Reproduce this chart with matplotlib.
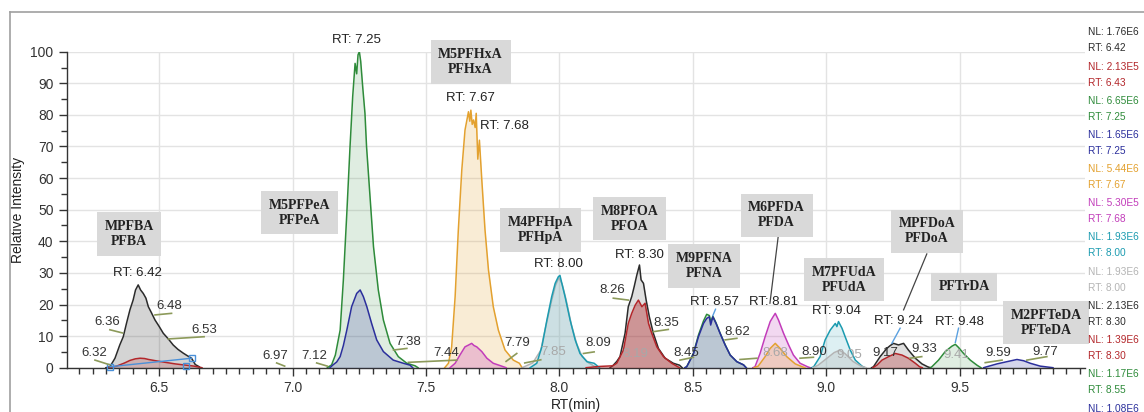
import matplotlib
matplotlib.use("Agg")
import matplotlib.pyplot as plt
from matplotlib.lines import Line2D
from matplotlib.ticker import MultipleLocator

plt.rcParams['font.family'] = ['Liberation Sans', 'DejaVu Sans']

# ---------------- data ----------------
# PFBA group
pfba_blk_rt = [6.30, 6.315, 6.334, 6.352, 6.365, 6.377, 6.39, 6.402, 6.411, 6.421, 6.43, 6.44, 6.45,
               6.459, 6.47, 6.484, 6.50, 6.515, 6.535, 6.552, 6.57, 6.59, 6.605, 6.621, 6.635, 6.65]
pfba_blk_y = [0, 0.3, 3.0, 7.2, 9.8, 14.0, 18.3, 21.4, 24.6, 26.2, 24.6, 23.5, 22.0,
              19.3, 17.5, 15.1, 13.0, 10.9, 9.0, 7.2, 5.8, 4.6, 3.8, 3.0, 1.0, 0.3]
pfba_red_rt = [6.31, 6.34, 6.37, 6.39, 6.41, 6.428, 6.445, 6.46, 6.48, 6.50, 6.53, 6.56, 6.60, 6.63, 6.66]
pfba_red_y = [0, 0.5, 1.5, 2.3, 2.8, 3.0, 2.9, 2.6, 2.3, 2.0, 1.6, 1.2, 0.8, 0.5, 0]

# PFPeA group
pfpea_grn_rt = [7.13, 7.146, 7.16, 7.178, 7.19, 7.203, 7.215, 7.225, 7.234, 7.24, 7.245, 7.25, 7.255,
                7.263, 7.271, 7.277, 7.29, 7.303, 7.321, 7.34, 7.365, 7.396, 7.428, 7.459, 7.47]
pfpea_grn_y = [0, 0.9, 4.0, 11.9, 27.7, 48.9, 69.9, 85.8, 96.3, 93.0, 99.0, 100, 97.0,
               88.4, 80.5, 69.9, 54.1, 38.3, 24.6, 15.1, 7.7, 3.5, 1.4, 0.6, 0]
pfpea_blu_rt = [7.14, 7.15, 7.165, 7.178, 7.19, 7.203, 7.221, 7.24, 7.253, 7.265, 7.278, 7.296,
                7.315, 7.34, 7.377, 7.415, 7.44, 7.45]
pfpea_blu_y = [0, 0.8, 1.8, 3.5, 7.0, 11.9, 19.3, 23.5, 24.6, 22.5, 19.3, 14.0, 8.8, 5.1, 2.4, 1.4, 0.8, 0]

# PFHxA group
pfhxa_org_rt = [7.57, 7.584, 7.596, 7.609, 7.621, 7.634, 7.646, 7.659, 7.664, 7.668, 7.673, 7.678, 7.684,
                7.688, 7.694, 7.70, 7.709, 7.721, 7.734, 7.752, 7.771, 7.796, 7.827, 7.85, 7.86]
pfhxa_org_y = [0, 1.4, 6.6, 22.5, 43.6, 62.6, 75.2, 81.0, 78.0, 81.5, 77.0, 78.4, 76.0,
               80.5, 66.0, 72.0, 59.4, 43.6, 30.9, 19.3, 11.9, 5.6, 2.4, 1.4, 0]
pfhxa_mag_rt = [7.59, 7.609, 7.627, 7.646, 7.66, 7.671, 7.68, 7.69, 7.709, 7.728, 7.752, 7.78, 7.80]
pfhxa_mag_y = [0, 1.4, 4.0, 6.6, 7.2, 7.7, 7.0, 6.6, 5.1, 3.0, 1.4, 0.6, 0]

# PFHpA group
pfhpa_tea_rt = [7.89, 7.915, 7.934, 7.953, 7.971, 7.984, 7.996, 8.002, 8.009, 8.021, 8.04, 8.059,
                8.077, 8.103, 8.13, 8.15]
pfhpa_tea_y = [0, 1.4, 6.6, 15.1, 22.5, 26.7, 28.8, 29.2, 26.7, 22.5, 15.1, 8.8, 4.5, 1.9, 1.4, 0]
pfhpa_gry_rt = [7.86, 7.90, 7.93, 7.95, 7.97, 7.985, 7.998, 8.01, 8.025, 8.045, 8.065, 8.085, 8.11, 8.14]
pfhpa_gry_y = [0, 1.5, 5.5, 13.5, 21.0, 26.0, 28.5, 26.5, 21.5, 13.5, 7.5, 3.5, 1.5, 0]

# PFOA group
pfoa_blk_rt = [8.19, 8.202, 8.215, 8.227, 8.246, 8.258, 8.271, 8.28, 8.29, 8.30, 8.306, 8.315, 8.325,
               8.337, 8.352, 8.371, 8.396, 8.427, 8.45, 8.46]
pfoa_blk_y = [0, 0.8, 2.0, 3.5, 10.9, 19.3, 22.5, 25.6, 29.3, 32.5, 27.8, 26.7, 21.4,
              16.1, 10.9, 6.1, 3.0, 1.4, 0.8, 0]
pfoa_red_rt = [8.10, 8.15, 8.20, 8.215, 8.24, 8.258, 8.271, 8.284, 8.296, 8.309, 8.321, 8.334,
               8.346, 8.365, 8.39, 8.421, 8.45]
pfoa_red_y = [0, 0.4, 0.6, 1.4, 5.6, 14.0, 17.2, 19.8, 21.4, 19.3, 20.4, 14.0, 10.9, 6.6, 3.5, 1.4, 0]

# PFNA group
pfna_rt = [8.47, 8.477, 8.502, 8.521, 8.54, 8.552, 8.562, 8.567, 8.575, 8.587, 8.602, 8.621,
           8.64, 8.665, 8.69, 8.70]
pfna_grn_y = [0, 0.3, 4.5, 10.3, 14.8, 16.9, 16.5, 14.5, 16.3, 14.2, 11.0, 7.3, 4.0, 1.9, 0.9, 0]
pfna_blu_y = [0, 0.3, 4.3, 9.8, 14.0, 15.6, 16.1, 13.5, 16.1, 14.0, 10.9, 7.2, 4.0, 1.9, 0.9, 0]

# PFDA group
pfda_mag_rt = [8.725, 8.733, 8.752, 8.771, 8.79, 8.80, 8.809, 8.821, 8.84, 8.859, 8.877, 8.902, 8.93, 8.94]
pfda_mag_y = [0, 0.3, 4.5, 9.8, 14.6, 16.0, 17.2, 15.1, 10.9, 7.2, 4.0, 1.4, 0.3, 0]
pfda_org_rt = [8.73, 8.745, 8.771, 8.79, 8.809, 8.827, 8.852, 8.884, 8.91, 8.92]
pfda_org_y = [0, 0.5, 3.5, 6.1, 7.7, 6.1, 3.5, 1.2, 0.3, 0]

# PFUdA group
pfuda_tea_rt = [8.945, 8.953, 8.977, 8.996, 9.015, 9.034, 9.040, 9.046, 9.059, 9.071, 9.09, 9.109, 9.134, 9.145]
pfuda_tea_y = [0, 0.3, 3.5, 8.8, 11.9, 14.0, 13.0, 14.6, 12.5, 9.8, 5.6, 2.4, 0.5, 0]
pfuda_gry_rt = [8.95, 8.97, 9.00, 9.03, 9.05, 9.07, 9.10, 9.13, 9.15]
pfuda_gry_y = [0, 0.8, 2.8, 4.8, 5.5, 4.5, 2.0, 0.5, 0]

# PFDoA group
pfdoa_blk_rt = [9.17, 9.177, 9.202, 9.227, 9.24, 9.252, 9.271, 9.29, 9.308, 9.334, 9.359, 9.38, 9.39]
pfdoa_blk_y = [0, 0.3, 3.5, 6.1, 7.0, 7.7, 7.2, 7.7, 5.6, 3.0, 1.2, 0.3, 0]
pfdoa_red_rt = [9.175, 9.19, 9.209, 9.234, 9.259, 9.284, 9.308, 9.334, 9.35, 9.36]
pfdoa_red_y = [0, 0.8, 2.4, 3.5, 4.5, 4.0, 3.0, 1.4, 0.3, 0]

# PFTrDA
pftrda_rt = [9.39, 9.396, 9.421, 9.446, 9.471, 9.484, 9.496, 9.515, 9.54, 9.565, 9.58]
pftrda_y = [0, 0.3, 2.4, 5.1, 6.8, 7.4, 6.4, 4.5, 2.4, 0.8, 0]

# PFTeDA
pfteda_rt = [9.59, 9.602, 9.64, 9.677, 9.715, 9.74, 9.765, 9.802, 9.84, 9.85]
pfteda_y = [0, 0.3, 1.2, 1.9, 2.6, 2.2, 1.4, 0.5, 0.1, 0]

# compound label boxes
box_texts = ["MPFBA\nPFBA", "M5PFPeA\nPFPeA", "M5PFHxA\nPFHxA", "M4PFHpA\nPFHpA", "M8PFOA\nPFOA",
             "M9PFNA\nPFNA", "M6PFDA\nPFDA", "M7PFUdA\nPFUdA", "MPFDoA\nPFDoA", "PFTrDA",
             "M2PFTeDA\nPFTeDA"]
box_x = [6.387, 7.026, 7.667, 7.928, 8.264, 8.543, 8.814, 9.066, 9.377, 9.517, 9.824]
box_y = [42.3, 49.0, 96.7, 43.6, 47.2, 32.2, 48.2, 27.8, 43.2, 25.6, 14.3]

# apex RT labels
rt_texts = ["RT: 6.42", "RT: 7.25", "RT: 7.67", "RT: 7.68", "RT: 8.00", "RT: 8.30", "RT: 8.57",
            "RT: 8.81", "RT: 9.04", "RT: 9.24", "RT: 9.48"]
rt_x = [6.419, 7.240, 7.665, 7.792, 7.996, 8.299, 8.580, 8.802, 9.037, 9.271, 9.499]
rt_y = [30.1, 103.7, 85.4, 76.5, 32.7, 35.7, 20.9, 20.7, 17.9, 14.8, 14.6]

# peak boundary labels
bd_texts = ["6.32", "6.36", "6.48", "6.53", "6.97", "7.12", "7.38", "7.44", "7.79", "7.85", "8.09",
            "8.19", "8.26", "8.35", "8.45", "8.62", "8.68", "8.90", "9.05", "9.17", "9.33", "9.41",
            "9.59", "9.77"]
bd_x = [6.257, 6.305, 6.536, 6.668, 6.934, 7.080, 7.434, 7.575, 7.842, 7.977, 8.146,
        8.284, 8.199, 8.402, 8.475, 8.665, 8.809, 8.955, 9.087, 9.221, 9.368, 9.486,
        9.646, 9.821]
bd_y = [4.5, 14.5, 19.5, 11.9, 3.7, 3.7, 8.2, 4.7, 7.7, 5.1, 7.7,
        4.3, 24.6, 14.0, 4.7, 11.4, 4.7, 5.1, 4.0, 4.5, 5.8, 4.0,
        4.5, 5.1]
bd_faint = [False, False, False, False, False, False, False, False, False, True, False,
            True, False, False, False, False, True, False, True, False, False, True,
            False, False]

# right-hand trace header (NL / RT)
nl_texts = ["NL: 1.76E6", "NL: 2.13E5", "NL: 6.65E6", "NL: 1.65E6", "NL: 5.44E6", "NL: 5.30E5",
            "NL: 1.93E6", "NL: 1.93E6", "NL: 2.13E6", "NL: 1.39E6", "NL: 1.17E6", "NL: 1.08E6"]
nl_rt_texts = ["RT: 6.42", "RT: 6.43", "RT: 7.25", "RT: 7.25", "RT: 7.67", "RT: 7.68",
               "RT: 8.00", "RT: 8.00", "RT: 8.30", "RT: 8.30", "RT: 8.55", ""]

# ---------------- styling ----------------
C_BLK = '#2b2b2b'
C_RED = '#b3262a'
C_GRN = '#2e8b3a'
C_NAV = '#2b2f9c'
C_ORG = '#e3a12f'
C_MAG = '#c23cba'
C_TEA = '#1b9bb0'
C_GRY = '#b4b4b4'
nl_colors = [C_BLK, C_RED, C_GRN, C_NAV, C_ORG, C_MAG, C_TEA, C_GRY, C_BLK, C_RED, C_GRN, C_NAV]

W, H = 1144, 412
fig = plt.figure(figsize=(W / 100, H / 100), dpi=100)
ax_l, ax_r, ax_b, ax_t = 66.7, 1085, 367.7, 51.7
ax = fig.add_axes([ax_l / W, 1 - ax_b / H, (ax_r - ax_l) / W, (ax_b - ax_t) / H])
ax.set_xlim(6.153, 9.97)
ax.set_ylim(0, 100)

# frame around the figure
fig.add_artist(Line2D([10 / W, 10 / W], [0, 1 - 12 / H], color='#a0a0a0', lw=1.2))
fig.add_artist(Line2D([10 / W, 1], [1 - 12 / H, 1 - 12 / H], color='#a0a0a0', lw=1.2))

ax.grid(True, which='major', color='#e3e3e3', lw=1.0)
ax.set_axisbelow(True)
for s in ['top', 'right']:
    ax.spines[s].set_visible(False)
for s in ['left', 'bottom']:
    ax.spines[s].set_color('#333333')
    ax.spines[s].set_linewidth(1.0)
ax.xaxis.set_major_locator(MultipleLocator(0.5))
ax.xaxis.set_minor_locator(MultipleLocator(0.05))
ax.yaxis.set_major_locator(MultipleLocator(10))
ax.yaxis.set_minor_locator(MultipleLocator(5))
ax.tick_params(axis='both', which='major', labelsize=10, colors='#333333', length=6, width=1)
ax.tick_params(axis='both', which='minor', colors='#333333', length=4, width=1)
ax.set_xticks([6.5, 7.0, 7.5, 8.0, 8.5, 9.0, 9.5])
ax.set_xticklabels(['6.5', '7.0', '7.5', '8.0', '8.5', '9.0', '9.5'])
ax.set_ylabel('Relative Intensity', fontsize=10, color='#222222', labelpad=4)
ax.set_xlabel('RT(min)', fontsize=10, color='#222222', labelpad=2)


def peak(rt, y, color, alpha, lw=1.1, z=2):
    ax.fill_between(rt, 0, y, color=color, alpha=alpha, lw=0, zorder=z)
    ax.plot(rt, y, color=color, lw=lw, zorder=z + 0.5)


peak(pfba_blk_rt, pfba_blk_y, C_BLK, 0.2)
peak(pfba_red_rt, pfba_red_y, C_RED, 0.2)
peak(pfpea_grn_rt, pfpea_grn_y, C_GRN, 0.15)
peak(pfpea_blu_rt, pfpea_blu_y, C_NAV, 0.2, z=3)
peak(pfhxa_org_rt, pfhxa_org_y, C_ORG, 0.2)
peak(pfhxa_mag_rt, pfhxa_mag_y, C_MAG, 0.25, z=3)
peak(pfhpa_gry_rt, pfhpa_gry_y, C_GRY, 0.25)
peak(pfhpa_tea_rt, pfhpa_tea_y, C_TEA, 0.15, z=3)
peak(pfoa_blk_rt, pfoa_blk_y, C_BLK, 0.15)
peak(pfoa_red_rt, pfoa_red_y, C_RED, 0.4, z=3)
peak(pfna_rt, pfna_grn_y, C_GRN, 0.15)
peak(pfna_rt, pfna_blu_y, C_NAV, 0.2, z=3)
peak(pfda_mag_rt, pfda_mag_y, C_MAG, 0.2)
peak(pfda_org_rt, pfda_org_y, C_ORG, 0.25, z=3)
peak(pfuda_tea_rt, pfuda_tea_y, C_TEA, 0.15)
peak(pfuda_gry_rt, pfuda_gry_y, C_GRY, 0.3, z=3)
peak(pfdoa_blk_rt, pfdoa_blk_y, C_BLK, 0.15)
peak(pfdoa_red_rt, pfdoa_red_y, C_RED, 0.3, z=3)
peak(pftrda_rt, pftrda_y, C_GRN, 0.15)
peak(pfteda_rt, pfteda_y, C_NAV, 0.2)

# integration baseline of PFBA
ax.plot([pfba_blk_rt[1], pfba_blk_rt[-3]], [pfba_blk_y[1], pfba_blk_y[-3]], color='#4a90d9', lw=1.0, zorder=4)
ax.plot([pfba_blk_rt[1], pfba_blk_rt[-3], pfba_red_rt[-3]], [pfba_blk_y[1], pfba_blk_y[-3], 0.5],
        ls='none', marker='s', ms=5, mfc='none', mec='#4a90d9', mew=1, zorder=4, clip_on=False)

# boxes
for t, x, y in zip(box_texts, box_x, box_y):
    ax.text(x, y, t, ha='center', va='center', fontsize=10, fontweight='bold',
            family=['Liberation Serif', 'DejaVu Serif'], color='#222222', linespacing=1.2,
            bbox=dict(boxstyle='square,pad=0.55', fc='#d9d9d9', ec='none'), zorder=6, clip_on=False)

# apex labels
for t, x, y in zip(rt_texts, rt_x, rt_y):
    ax.text(x, y, t, ha='center', va='center', fontsize=9.5, color='#222222', zorder=6, clip_on=False)

# boundary labels
for t, x, y, f in zip(bd_texts, bd_x, bd_y, bd_faint):
    ax.text(x, y, t, ha='center', va='center', fontsize=9.5,
            color='#a8a8a8' if f else '#333333', zorder=5)

# olive leader lines for boundary labels
olive = '#8c9a5a'
leaders = [((6.259, 2.4), (6.315, 0.9)), ((6.315, 12.0), (6.362, 11.0)), ((6.484, 16.7), (6.546, 17.2)),
           ((6.534, 9.1), (6.668, 9.8)), ((6.94, 1.5), (6.97, 0.5)), ((7.09, 1.5), (7.13, 0.5)),
           ((7.378, 5.6), (7.428, 6.1)), ((7.434, 1.7), (7.615, 2.4)), ((7.80, 2.0), (7.84, 4.5)),
           ((7.87, 1.5), (7.93, 2.5)), ((8.09, 4.5), (8.13, 5.0)), ((8.202, 22.0), (8.258, 21.4)),
           ((8.352, 11.4), (8.408, 12.1)), ((8.452, 2.4), (8.502, 3.3)), ((8.621, 8.8), (8.665, 9.3)),
           ((8.677, 2.6), (8.74, 3.0)), ((8.902, 3.0), (8.952, 3.3)), ((9.314, 3.0), (9.358, 3.5)),
           ((9.596, 1.6), (9.659, 2.4)), ((9.752, 2.4), (9.827, 3.5))]
for (x0, y0), (x1, y1) in leaders:
    ax.plot([x0, x1], [y0, y1], color=olive, lw=1.2, zorder=4.5)

# box leader lines
ax.plot([8.82, 8.789], [41.5, 20.4], color='#444444', lw=0.9, zorder=5)
ax.plot([9.377, 9.29], [36.0, 18.3], color='#444444', lw=0.9, zorder=5)
# apex leader lines (light blue)
for (x0, y0), (x1, y1) in [((9.277, 12.5), (9.246, 7.7)), ((9.496, 12.5), (9.484, 8.0)),
                           ((8.585, 18.5), (8.575, 16.5))]:
    ax.plot([x0, x1], [y0, y1], color='#5aa0e0', lw=1.0, zorder=5)

# right-hand header
y0, pair_step, line_step = 32.3, 34.2, 16.0
for i, (nl, rtt, c) in enumerate(zip(nl_texts, nl_rt_texts, nl_colors)):
    yy = y0 + i * pair_step
    fig.text(1088 / W, 1 - yy / H, nl, color=c, fontsize=7.3, va='center', ha='left')
    if rtt:
        fig.text(1088 / W, 1 - (yy + line_step) / H, rtt, color=c, fontsize=7.3, va='center', ha='left')

fig.savefig('out.png', dpi=100)
